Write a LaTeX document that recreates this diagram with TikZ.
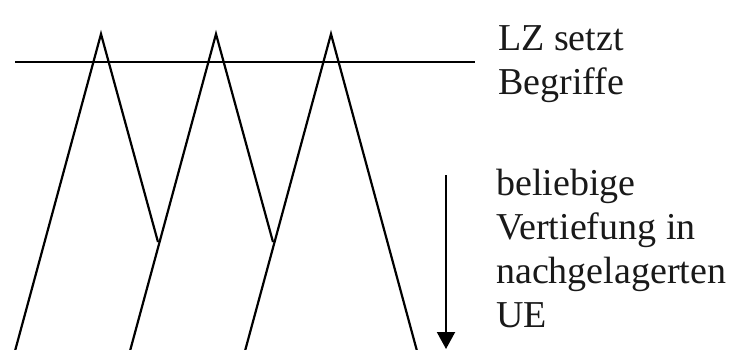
\documentclass[tikz,border=0pt]{standalone}
\usepackage{fontspec}
\setmainfont{Liberation Serif}
\usetikzlibrary{arrows.meta}
\tikzset{
  ln/.style={line width=2.2pt, black, line join=miter},
  lbl/.style={anchor=base west, inner sep=0pt, font=\fontsize{38pt}{44pt}\selectfont, text=black!90},
}
\begin{document}
\begin{tikzpicture}[x=1pt,y=-1pt]
\useasboundingbox (0,0) rectangle (733,349);
% horizontal line
\coordinate (hl) at (15,62);
\coordinate (hr) at (475,62);
\draw[ln] (hl) -- (hr);
% triangle points
\coordinate (p1) at (101,34);
\coordinate (p2) at (216,34);
\coordinate (p3) at (331,34);
\coordinate (b1) at (15,351);
\coordinate (b2) at (130,351);
\coordinate (b3) at (245,351);
\coordinate (b4) at (417,351);
\coordinate (j1) at (158,242);
\coordinate (j2) at (273,242);
\draw[ln] (b1) -- (p1) -- (j1);
\draw[ln] (b2) -- (p2) -- (j2);
\draw[ln] (b3) -- (p3) -- (b4);
% arrow
\coordinate (as) at (446,175);
\coordinate (ae) at (446,349);
\draw[line width=2pt, -{Triangle[width=18pt,length=17pt]}] (as) -- (ae);
% labels
\node[lbl] (t1) at (498,50) {LZ setzt};
\node[lbl] (t2) at (498,94) {Begriffe};
\node[lbl] (t3) at (496,195) {beliebige};
\node[lbl] (t4) at (496,239) {Vertiefung in};
\node[lbl] (t5) at (496,283) {nachgelagerten};
\node[lbl] (t6) at (496,327) {UE};
\end{tikzpicture}
\end{document}
